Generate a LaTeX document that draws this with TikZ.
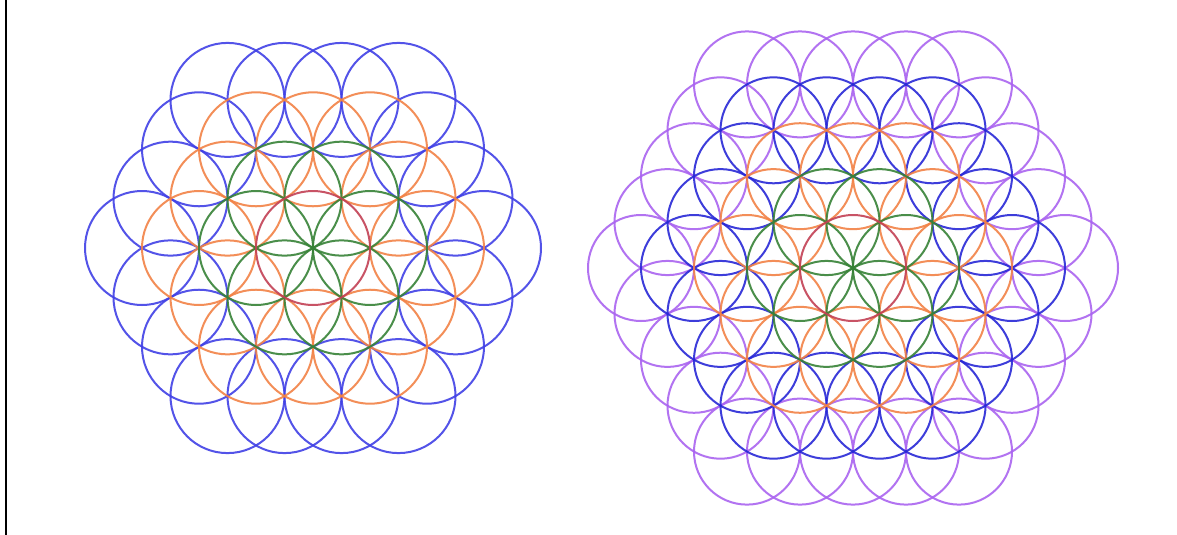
\documentclass[tikz,border=0pt]{standalone}
\definecolor{cred}{RGB}{195,65,85}
\definecolor{cgreen}{RGB}{55,130,55}
\definecolor{corange}{RGB}{242,130,70}
\definecolor{cblueL}{RGB}{65,65,230}
\definecolor{cblueR}{RGB}{40,40,215}
\definecolor{cpurple}{RGB}{170,100,240}
\tikzset{
  petal/.style={line width=2pt, opacity=0.9},
  Lr0/.style={petal, draw=cred},
  Lr1/.style={petal, draw=cgreen},
  Lr2/.style={petal, draw=corange},
  Lr3/.style={petal, draw=cblueL},
  Rr0/.style={petal, draw=cred},
  Rr1/.style={petal, draw=cgreen},
  Rr2/.style={petal, draw=corange},
  Rr3/.style={petal, draw=cblueR},
  Rr4/.style={petal, draw=cpurple},
  frameline/.style={line width=2.8pt, draw=black}
}
% #1 cx, #2 cy, #3 radius, #4 outermost ring, #5 style prefix
\newcommand\flowerpattern[5]{%
  \foreach \kk in {0,...,#4} {%
    \pgfmathtruncatemacro\kring{#4-\kk}%
    \foreach \ia in {-#4,...,#4} {%
      \foreach \ib in {-#4,...,#4} {%
        \pgfmathtruncatemacro\hexd{(abs(\ia)+abs(\ib)+abs(\ia+\ib))/2}%
        \ifnum\hexd=\kring
          \draw[#5\kring] ({#1+(\ia+\ib/2)*#3},{#2+\ib*0.8660254*#3}) circle[radius=#3];
        \fi
      }%
    }%
  }%
}
\begin{document}
\begin{tikzpicture}[x=1pt,y=-1pt]
  \useasboundingbox (0,0) rectangle (1177,535);
  \fill[white] (0,0) rectangle (1177,535);
  \draw[frameline] (6,0) -- (6,535);
  \flowerpattern{313}{248}{57}{3}{Lr}
  \flowerpattern{853}{268}{53}{4}{Rr}
\end{tikzpicture}
\end{document}
